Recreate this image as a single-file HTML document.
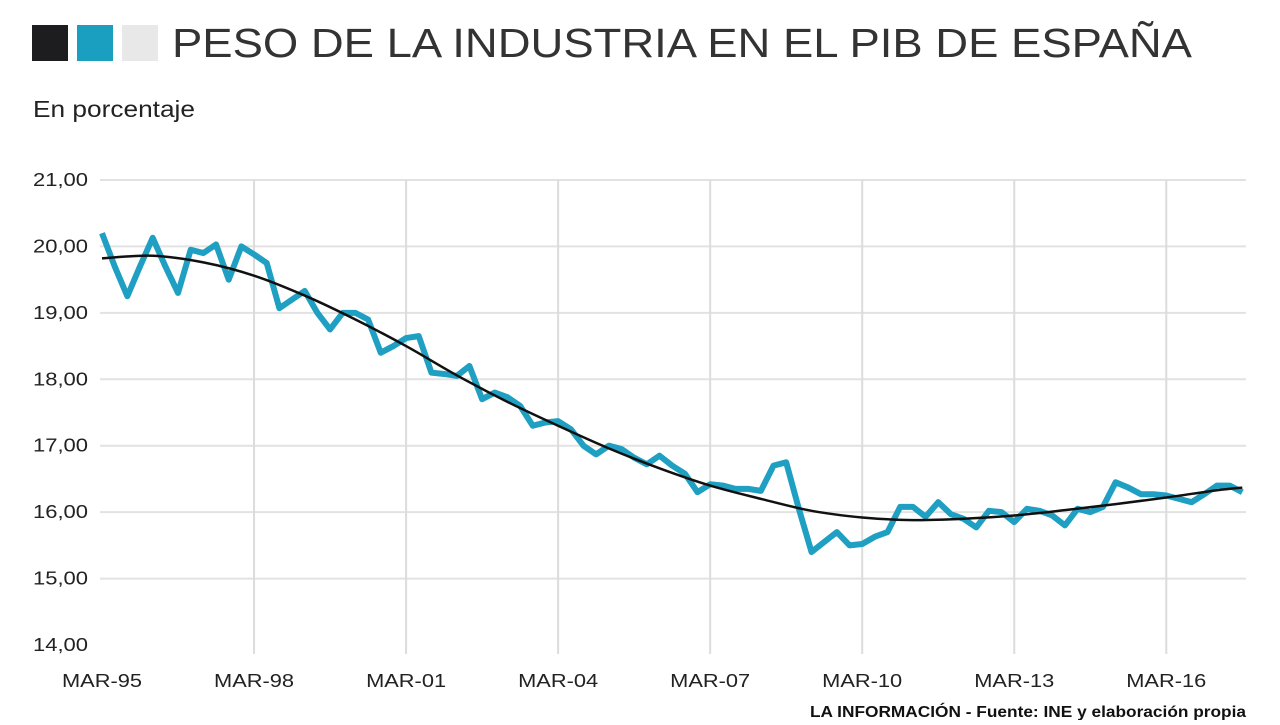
<!DOCTYPE html>
<html><head><meta charset="utf-8"><style>
body{margin:0;background:#fff;width:1280px;height:720px;overflow:hidden;font-family:"Liberation Sans",Arial,sans-serif}
</style></head><body>
<svg width="1280" height="720" xmlns="http://www.w3.org/2000/svg">
<rect x="32" y="25" width="36" height="36" fill="#1d1d1f"/>
<rect x="77" y="25" width="36" height="36" fill="#1a9fc0"/>
<rect x="122" y="25" width="36" height="36" fill="#e8e8e8"/>
<text x="172" y="57" font-size="41" fill="#333" textLength="1020" lengthAdjust="spacingAndGlyphs">PESO DE LA INDUSTRIA EN EL PIB DE ESPAÑA</text>
<text x="33" y="117" font-size="23" fill="#222" textLength="162" lengthAdjust="spacingAndGlyphs">En porcentaje</text>
<g id="grid"></g><g id="axes"></g><g id="series"></g>
<text x="1246" y="717" font-size="16" fill="#111" text-anchor="end" font-weight="bold" textLength="436" lengthAdjust="spacingAndGlyphs">LA INFORMACIÓN - Fuente: INE y elaboración propia</text>
</svg>
<script>
const yTicks=[14,15,16,17,18,19,20,21];
const xTickLabels=["MAR-95","MAR-98","MAR-01","MAR-04","MAR-07","MAR-10","MAR-13","MAR-16"];
const xTickIdx=[0,12,24,36,48,60,72,84];
const industry=[20.2,19.7,19.25,19.7,20.13,19.7,19.3,19.95,19.9,20.03,19.5,20.0,19.88,19.75,19.07,19.2,19.33,19.0,18.75,19.0,19.0,18.9,18.4,18.5,18.62,18.65,18.1,18.08,18.05,18.2,17.7,17.8,17.73,17.6,17.3,17.35,17.37,17.25,17.0,16.87,17.0,16.95,16.82,16.72,16.85,16.7,16.58,16.3,16.42,16.4,16.35,16.35,16.32,16.7,16.75,16.05,15.4,15.55,15.7,15.5,15.52,15.63,15.7,16.08,16.08,15.93,16.15,15.97,15.9,15.77,16.02,16.0,15.85,16.05,16.02,15.95,15.8,16.05,16.0,16.08,16.45,16.37,16.27,16.27,16.25,16.2,16.15,16.27,16.4,16.4,16.3];
const trendIdx=[0,4,8,12,16,20,24,28,32,36,40,44,48,52,56,60,64,68,72,76,80,84,88,90];
const trendVal=[19.82,19.86,19.76,19.56,19.26,18.9,18.5,18.06,17.66,17.3,16.96,16.66,16.4,16.2,16.02,15.92,15.88,15.9,15.95,16.03,16.12,16.22,16.33,16.37];
const NS="http://www.w3.org/2000/svg";
const X=i=>102+i*12.67;
const Y=v=>645-(v-14)*66.43;
function mk(tag,attrs,parent){const e=document.createElementNS(NS,tag);for(const k in attrs)e.setAttribute(k,attrs[k]);document.getElementById(parent).appendChild(e);return e;}
yTicks.forEach(v=>{
  if(v>14){const l=mk('line',{x1:100,x2:1246,y1:Y(v),y2:Y(v),stroke:'#e2e2e2','stroke-width':2},'grid');
  
  }
  const t=mk('text',{x:88,y:Y(v)+6,'font-size':18,fill:'#222','text-anchor':'end',textLength:55,lengthAdjust:'spacingAndGlyphs'},'axes');
  t.textContent=v.toFixed(2).replace('.',',');
  
  
});
xTickIdx.forEach((i,k)=>{
  if(i>0){const l=mk('line',{x1:X(i),x2:X(i),y1:180,y2:654,stroke:'#dcdcdc','stroke-width':2},'grid');
  
  }
  const t=mk('text',{x:X(i),y:687,'font-size':18,fill:'#222','text-anchor':'middle',textLength:80,lengthAdjust:'spacingAndGlyphs'},'axes');
  t.textContent=xTickLabels[k];
  
  
});
const p=mk('polyline',{points:industry.map((v,i)=>X(i)+','+Y(v)).join(' '),fill:'none',stroke:'#1f9fc2','stroke-width':6,'stroke-linejoin':'round'},'series');


const pts=trendIdx.map((i,k)=>[X(i),Y(trendVal[k])]);
let d='M'+pts[0][0]+','+pts[0][1];
for(let k=0;k<pts.length-1;k++){const p0=pts[k-1]||pts[k],p1=pts[k],p2=pts[k+1],p3=pts[k+2]||p2;
d+=' C'+(p1[0]+(p2[0]-p0[0])/6)+','+(p1[1]+(p2[1]-p0[1])/6)+' '+(p2[0]-(p3[0]-p1[0])/6)+','+(p2[1]-(p3[1]-p1[1])/6)+' '+p2[0]+','+p2[1];}
const tr=mk('path',{d:d,fill:'none',stroke:'#111','stroke-width':2.5},'series');


</script>
</body></html>
